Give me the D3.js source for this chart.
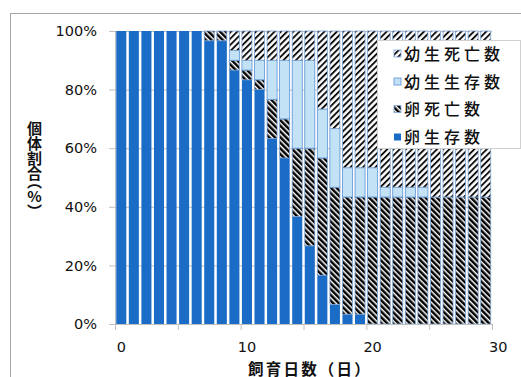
<!DOCTYPE html>
<html>
<head>
<meta charset="utf-8">
<script src="https://cdn.jsdelivr.net/npm/d3@7"></script>
<style>
  html, body { margin: 0; padding: 0; background: #fff; }
  svg { display: block; }
  .ytitle {
    writing-mode: vertical-rl;
    text-orientation: upright;
    font-feature-settings: "vhal" 1;
  }
</style>
</head>
<body>
<svg id="chart" width="521" height="377"></svg>
<script>
// Rearing days (one column per day)
const days = d3.range(0, 30);

// Individual counts per day (30 eggs in total)
const eggAlive   = [30,30,30,30,30,30,30,29,29,26,25,24,19,17,11,8,5,2,1,1,0,0,0,0,0,0,0,0,0,0];
const eggDead    = [0,0,0,0,0,0,0,1,1,1,1,1,4,4,7,10,12,12,12,12,13,13,13,13,13,13,13,13,13,13];
const larvaAlive = [0,0,0,0,0,0,0,0,0,1,1,2,4,6,9,9,5,6,3,3,3,1,1,1,1,0,0,0,0,0];
const larvaDead  = [0,0,0,0,0,0,0,0,0,2,3,3,3,3,3,3,8,10,14,14,14,16,16,16,16,17,17,17,17,17];

// Series, bottom of the stack first
const seriesKeys   = ["eggAlive", "eggDead", "larvaAlive", "larvaDead"];
const seriesNames  = ["卵生存数", "卵死亡数", "幼生生存数", "幼生死亡数"];

// Axis labels
const yTicks = [0, 0.2, 0.4, 0.6, 0.8, 1];
const xTicks = [0, 5, 10, 15, 20, 25, 30];
const xLabels = [0, 10, 20, 30];
const xTitle = "飼育日数（日）";
const yTitle = "個体割合（%）";

const table = days.map((d, i) => ({
  day: d,
  eggAlive: eggAlive[i],
  eggDead: eggDead[i],
  larvaAlive: larvaAlive[i],
  larvaDead: larvaDead[i]
}));

const svg = d3.select("#chart");
const plot = { left: 115, right: 492, top: 31, bottom: 324 };

// Hatch patterns
const defs = svg.append("defs");
const eggDeadPat = defs.append("pattern")
  .attr("id", "hatchEggDead").attr("patternUnits", "userSpaceOnUse")
  .attr("width", 4).attr("height", 4)
  .attr("patternTransform", "rotate(-45)");
eggDeadPat.append("rect").attr("width", 4).attr("height", 4).attr("fill", "#fff");
eggDeadPat.append("rect").attr("width", 2.5).attr("height", 4).attr("fill", "#000");

const larvaDeadPat = defs.append("pattern")
  .attr("id", "hatchLarvaDead").attr("patternUnits", "userSpaceOnUse")
  .attr("width", 4.4).attr("height", 4.4)
  .attr("patternTransform", "rotate(45)");
larvaDeadPat.append("rect").attr("width", 4.4).attr("height", 4.4).attr("fill", "#fff");
larvaDeadPat.append("rect").attr("width", 1.9).attr("height", 4.4).attr("fill", "#111");

const fills = {
  eggAlive: "#1a6cc6",
  eggDead: "url(#hatchEggDead)",
  larvaAlive: "#c3e2f5",
  larvaDead: "url(#hatchLarvaDead)"
};
const strokes = {
  eggAlive: "none",
  eggDead: "#7fa6d6",
  larvaAlive: "#5a92d4",
  larvaDead: "#7fa6d6"
};

// Outer frame
svg.append("rect")
  .attr("x", 10.5).attr("y", 13.5).attr("width", 530).attr("height", 400)
  .attr("fill", "#fff").attr("stroke", "#a6a6a6").attr("stroke-width", 1);

// Scales
const x = d3.scaleBand().domain(days).range([plot.left, plot.right])
  .paddingInner(0.2).paddingOuter(0.1);
const xLin = d3.scaleLinear().domain([0, 30]).range([plot.left, plot.right]);
const y = d3.scaleLinear().domain([0, 1]).range([plot.bottom, plot.top]);

// Gridlines
svg.append("g")
  .selectAll("line").data(yTicks.filter(t => t > 0)).join("line")
  .attr("x1", plot.left).attr("x2", plot.right)
  .attr("y1", d => y(d) + 0.5).attr("y2", d => y(d) + 0.5)
  .attr("stroke", "#bfbfbf").attr("stroke-width", 1);

// 100% stacked columns
const stack = d3.stack().keys(seriesKeys).offset(d3.stackOffsetExpand);
const layers = stack(table);

svg.append("g").selectAll("g").data(layers).join("g")
  .attr("fill", d => fills[d.key])
  .attr("stroke", d => strokes[d.key])
  .attr("stroke-width", 0.8)
  .selectAll("rect").data(d => d.filter(s => s[1] - s[0] > 0)).join("rect")
  .attr("x", d => x(d.data.day))
  .attr("width", x.bandwidth())
  .attr("y", d => y(d[1]))
  .attr("height", d => y(d[0]) - y(d[1]));

// Y axis
const yAxis = svg.append("g")
  .attr("transform", `translate(${plot.left},0)`)
  .call(d3.axisLeft(y).tickValues(yTicks).tickFormat(d3.format(".0%")).tickSize(6).tickPadding(12));
yAxis.select(".domain").attr("stroke", "#bfbfbf");
yAxis.selectAll(".tick line").attr("stroke", "#bfbfbf");
yAxis.selectAll("text")
  .attr("font-family", "'DejaVu Sans', sans-serif")
  .attr("font-size", "14.5px").attr("fill", "#111");

// X axis
const xAxis = svg.append("g")
  .attr("transform", `translate(0,${plot.bottom})`)
  .call(d3.axisBottom(xLin).tickValues(xTicks).tickFormat("").tickSize(6));
xAxis.select(".domain").attr("stroke", "#bfbfbf");
xAxis.selectAll(".tick line").attr("stroke", "#bfbfbf");

const halfStep = x.step() / 2;
svg.append("g").selectAll("text").data(xLabels).join("text")
  .attr("x", d => xLin(d) + halfStep)
  .attr("y", 352)
  .attr("text-anchor", "middle")
  .attr("font-family", "'DejaVu Sans', sans-serif")
  .attr("font-size", "14.5px").attr("fill", "#111")
  .text(d => d);

// Axis titles
svg.append("text")
  .attr("x", 310).attr("y", 374.5)
  .attr("text-anchor", "middle")
  .attr("font-family", "'Noto Sans CJK JP', sans-serif")
  .attr("font-size", "15.5px").attr("font-weight", "bold")
  .attr("letter-spacing", "2.2px")
  .attr("fill", "#111")
  .text(xTitle);

svg.append("text")
  .attr("class", "ytitle")
  .attr("x", 34.5).attr("y", 121)
  .attr("font-family", "'Noto Sans CJK JP', sans-serif")
  .attr("font-size", "15px").attr("font-weight", "bold")
  .attr("fill", "#111")
  .text(yTitle);

// Legend (drawn over the columns on a white panel)
const legend = svg.append("g");
legend.append("rect")
  .attr("x", 377.5).attr("y", 40.5).attr("width", 143).attr("height", 108)
  .attr("fill", "#fff").attr("stroke", "#d0d0d0");

const legendOrder = seriesKeys.slice().reverse();
const rowY = [53.5, 81.5, 109, 137];
const item = legend.selectAll("g.item").data(legendOrder).join("g")
  .attr("class", "item")
  .attr("transform", (d, i) => `translate(394,${rowY[i]})`);
item.append("rect")
  .attr("x", 0).attr("y", -3.5).attr("width", 7).attr("height", 7)
  .attr("fill", d => fills[d])
  .attr("stroke", d => d === "eggAlive" ? "none" : strokes[d])
  .attr("stroke-width", 0.8);
item.append("text")
  .attr("x", 10).attr("y", 6)
  .attr("font-family", "'Noto Sans CJK JP', sans-serif")
  .attr("font-size", "16px")
  .attr("font-weight", 500)
  .attr("letter-spacing", "4px")
  .attr("fill", "#111")
  .text(d => seriesNames[seriesKeys.indexOf(d)]);
</script>
</body>
</html>
